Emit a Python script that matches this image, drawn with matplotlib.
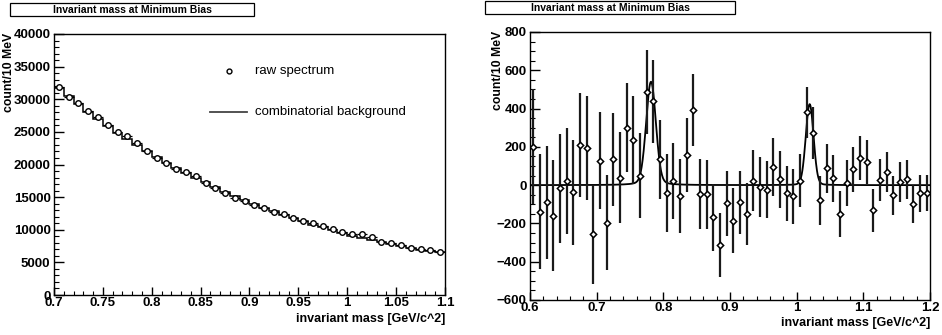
import numpy as np
import matplotlib
matplotlib.use("Agg")
import matplotlib.pyplot as plt
from matplotlib.patches import Rectangle
from matplotlib.ticker import MultipleLocator
from matplotlib.font_manager import FontProperties

plt.rcParams['font.family'] = ['Liberation Sans', 'DejaVu Sans']

# ---------------- data ----------------
title_text = "Invariant mass at Minimum Bias"
ylabel_text = "count/10 MeV"
xlabel_text = "invariant mass [GeV/c^2]"
legend_raw = "raw spectrum"
legend_bg = "combinatorial background"

# left panel: 40 bins of 10 MeV from 0.70 to 1.10
left_edges = np.round(np.arange(0.70, 1.1001, 0.01), 3)
raw_counts = [31920, 30390, 29470, 28200, 27330, 26100, 24930, 24420, 23350, 22120,
              21050, 20230, 19360, 18850, 18290, 17160, 16450, 15580, 14820, 14450,
              13740, 13380, 12770, 12410, 11850, 11390, 11080, 10570, 10110, 9660,
              9350, 9350, 8890, 8170, 8020, 7610, 7250, 7000, 6850, 6640]
bg_counts = [31800, 30450, 29250, 28100, 27000, 25900, 24900, 23900, 22950, 22050,
             21150, 20300, 19500, 18700, 17950, 17250, 16550, 15850, 15200, 14600,
             14000, 13400, 12850, 12300, 11800, 11300, 10800, 10350, 9900, 9500,
             9100, 8750, 8400, 8050, 7750, 7450, 7200, 6950, 6750, 6600]

# right panel: 60 bins of 10 MeV from 0.60 to 1.20 (background subtracted)
right_centers = np.round(np.arange(0.605, 1.2, 0.01), 3)
sub_counts = [200, -139, -89, -160, -16, 21, -38, 208, 194, -257,
              128, -196, 135, 38, 300, 236, 50, 486, 437, 134,
              -42, 21, -57, 158, 391, -47, -47, -168, -314, -94,
              -186, -89, -151, 24, -10, -23, 95, 31, -42, -59,
              23, 380, 274, -80, 89, 36, -151, 12, 82, 141,
              120, -132, 26, 69, -54, 16, 30, -99, -43, -40]
sub_errors = [300, 300, 295, 290, 285, 278, 274, 272, 270, 257,
              252, 247, 243, 238, 232, 230, 222, 220, 216, 208,
              205, 200, 195, 193, 189, 184, 180, 175, 168, 170,
              170, 164, 162, 159, 158, 151, 150, 148, 143, 142,
              139, 134, 135, 130, 128, 124, 121, 121, 118, 115,
              115, 111, 110, 106, 104, 104, 100, 98, 96, 95]

# fitted peak parameters (omega and phi): Gaussian core + Lorentzian tail
omega_mass, omega_gauss_h, omega_sigma, omega_lor_h, omega_gamma = 0.7815, 490, 0.0072, 50, 0.012
phi_mass, phi_gauss_h, phi_sigma, phi_lor_h, phi_gamma = 1.0195, 395, 0.0058, 28, 0.008
fit_baseline = 0.0

# ---------------- figure ----------------
W, H = 942, 335
fig = plt.figure(figsize=(W / 100, H / 100), dpi=100)

def fx(px):
    return px / W

def fy(py):
    return 1 - py / H

axL = fig.add_axes([fx(54), fy(295), fx(445) - fx(54), fy(34) - fy(295)])
axR = fig.add_axes([fx(530), fy(300), fx(930) - fx(530), fy(32) - fy(300)])

tick_font = dict(family='Liberation Sans', weight='bold', size=9.5)

# --- left panel ---
left_centers = (left_edges[:-1] + left_edges[1:]) / 2
axL.stairs(bg_counts, left_edges, color='black', linewidth=1.1, baseline=None, zorder=2)
raw_arr = np.array(raw_counts, dtype=float)
axL.errorbar(left_centers, raw_arr, xerr=0.005, yerr=np.sqrt(raw_arr),
             fmt='o', ms=4, mfc='white', mec='black', mew=1.0,
             ecolor='black', elinewidth=0.9, capsize=0, zorder=3)
axL.set_xlim(0.7, 1.1)
axL.set_ylim(0, 40000)
axL.xaxis.set_minor_locator(MultipleLocator(0.01))
axL.yaxis.set_major_locator(MultipleLocator(5000))
axL.yaxis.set_minor_locator(MultipleLocator(1000))
axL.set_xticks([0.7, 0.75, 0.8, 0.85, 0.9, 0.95, 1.0, 1.05, 1.1])
axL.set_xticklabels(['0.7', '0.75', '0.8', '0.85', '0.9', '0.95', '1', '1.05', '1.1'])

# legend (ROOT style, no frame)
fig.add_artist(plt.Line2D([fx(229)], [fy(71)], marker='o', ms=3.5, mfc='white',
                          mec='black', mew=1.0, linestyle='none'))
fig.text(fx(255), fy(71), legend_raw, fontsize=9.5, va='center', ha='left')
fig.add_artist(plt.Line2D([fx(210), fx(247)], [fy(112), fy(112)], color='#444444', lw=1.3))
fig.text(fx(255), fy(112), legend_bg, fontsize=9.5, va='center', ha='left')

# --- right panel ---
xfit = np.linspace(0.6, 1.2, 1201)
yfit = (fit_baseline
        + omega_gauss_h * np.exp(-0.5 * ((xfit - omega_mass) / omega_sigma) ** 2)
        + omega_lor_h / (1 + ((xfit - omega_mass) / omega_gamma) ** 2)
        + phi_gauss_h * np.exp(-0.5 * ((xfit - phi_mass) / phi_sigma) ** 2)
        + phi_lor_h / (1 + ((xfit - phi_mass) / phi_gamma) ** 2))
axR.plot(xfit, yfit, color='black', lw=1.3, zorder=2)
axR.errorbar(right_centers, sub_counts, yerr=sub_errors, fmt='D', ms=3.2,
             mfc='white', mec='black', mew=1.1, ecolor='#1a1a1a', elinewidth=1.6,
             capsize=0, zorder=3)
axR.set_xlim(0.6, 1.2)
axR.set_ylim(-600, 800)
axR.set_xticks([0.6, 0.7, 0.8, 0.9, 1.0, 1.1, 1.2])
axR.set_xticklabels(['0.6', '0.7', '0.8', '0.9', '1', '1.1', '1.2'])
axR.xaxis.set_minor_locator(MultipleLocator(0.02))
axR.yaxis.set_major_locator(MultipleLocator(200))
axR.yaxis.set_minor_locator(MultipleLocator(50))

for ax in (axL, axR):
    ax.tick_params(axis='both', which='both', direction='in', top=False, right=False,
                   color='black')
    ax.tick_params(axis='y', which='major', length=7.5, width=1.0, pad=2.5)
    ax.tick_params(axis='y', which='minor', length=3.8, width=0.8)
    ax.tick_params(axis='x', which='major', length=6, width=1.0, pad=1.5)
    ax.tick_params(axis='x', which='minor', length=3, width=0.8)
    for lab in ax.get_xticklabels() + ax.get_yticklabels():
        lab.set_fontproperties(FontProperties(**tick_font))
    for sp in ax.spines.values():
        sp.set_linewidth(1.0)
        sp.set_color('black')

# axis titles
fig.text(fx(9), fy(33), ylabel_text, rotation=90, ha='center', va='top',
         fontsize=8.8, weight='bold')
fig.text(fx(498), fy(31), ylabel_text, rotation=90, ha='center', va='top',
         fontsize=8.8, weight='bold')
fig.text(fx(445), fy(319), xlabel_text, ha='right', va='center', fontsize=9, weight='bold')
fig.text(fx(930), fy(323), xlabel_text, ha='right', va='center', fontsize=9, weight='bold')

# title boxes
for (x0, x1, y0, y1) in [(10, 254, 3, 16), (485, 735, 1, 14)]:
    fig.add_artist(Rectangle((fx(x0), fy(y1)), fx(x1) - fx(x0), fy(y0) - fy(y1),
                             transform=fig.transFigure, facecolor='white',
                             edgecolor='black', lw=0.9))
    fig.text(fx((x0 + x1) / 2), fy((y0 + y1) / 2 + 0.5), title_text, ha='center', va='center',
             fontsize=7.5, weight='bold')

fig.savefig("out.png", dpi=100)
